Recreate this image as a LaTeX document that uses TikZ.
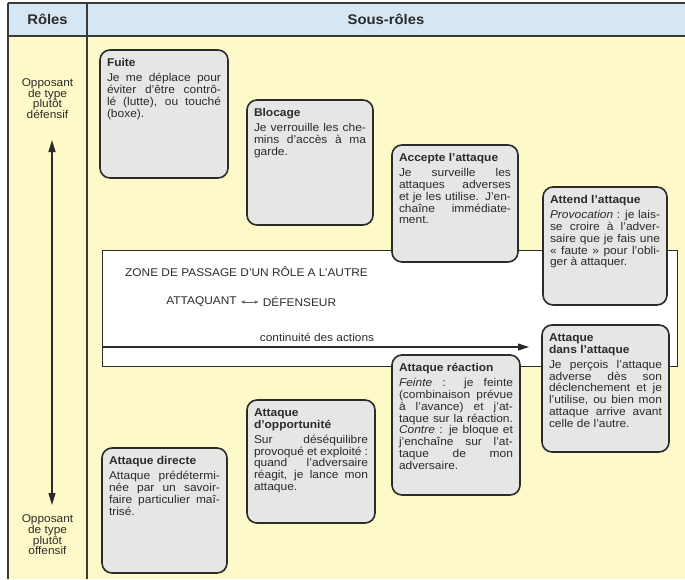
\documentclass[tikz,border=0pt]{standalone}
\usepackage{fontspec}
\setmainfont{Liberation Sans}[FakeStretch=1.06]
\usetikzlibrary{arrows.meta}

\definecolor{hdrblue}{HTML}{D5E7F4}
\definecolor{bodyyel}{HTML}{FEF9C8}
\definecolor{cardgray}{HTML}{E6E6E5}
\definecolor{ink}{HTML}{2B2B2B}
\definecolor{rule}{HTML}{3A3A3A}

% card contents: inner width, inner height, stacked lines
\newcommand\cardtext[3]{%
  \vbox to #2{\hsize=#1\relax\fontsize{11.3}{11.8}\selectfont\color{ink}#3\vfil}}
\newcommand\ttl[1]{\hbox{\rule{0pt}{8pt}\bfseries #1}}
\newcommand\gap{\vskip3.2pt}
\newcommand\jl[1]{\hbox to\hsize{#1}}
\newcommand\el[1]{\hbox{#1}}

\tikzset{
  card/.style={draw=ink, line width=1.6pt, rounded corners=10pt, fill=cardgray,
    anchor=north west, inner xsep=7pt, inner ysep=8.5pt, outer sep=0pt},
  frameline/.style={draw=rule, line width=1.3pt},
  hdrtext/.style={font=\fontsize{14}{15}\selectfont\bfseries, text=ink},
  sidetext/.style={font=\fontsize{11.2}{10.6}\selectfont, text=ink, align=center},
  zonetext/.style={font=\fontsize{11.2}{12}\selectfont, text=ink},
  bigtip/.style={-{Triangle[length=11pt,width=7pt]}},
}

\begin{document}
\begin{tikzpicture}[x=1pt,y=-1pt]
\useasboundingbox (0,0) rectangle (685,579);

% backgrounds
\fill[white] (0,0) rectangle (685,579);
\fill[hdrblue] (8,3) rectangle (685,36);
\fill[bodyyel] (8,36) rectangle (685,579);

% table rules
\draw[frameline] (8,3) -- (685,3);
\draw[frameline, line width=1.7pt] (8,36) -- (685,36);
\draw[frameline] (8,3) -- (8,579);
\draw[frameline] (87,3) -- (87,579);

% header
\node[hdrtext] (hroles) at (47.5,19.5) {Rôles};
\node[hdrtext] (hsous) at (386,19.5) {Sous-rôles};

% left column
\node[sidetext] (defl) at (47.5,98.5) {Opposant\\de type\\plutôt\\défensif};
\node[sidetext] (offl) at (47.5,535) {Opposant\\de type\\plutôt\\offensif};
\coordinate (axtop) at (52,140);
\coordinate (axbot) at (52,505);
\draw[draw=ink, line width=1.4pt, {Triangle[length=12pt,width=7pt]}-{Triangle[length=12pt,width=7pt]}] (axtop) -- (axbot);

% transition zone
\node[draw=ink, line width=1.4pt, fill=white, anchor=north west,
      minimum width=575pt, minimum height=116pt, inner sep=0pt] (zone) at (102,250) {};
\node[zonetext] (ztitle) at (246.5,272) {ZONE DE PASSAGE D'UN RÔLE A L'AUTRE};
\node[zonetext] (zatt) at (201.5,302) {ATTAQUANT};
\node[zonetext] (zdef) at (299.5,302) {DÉFENSEUR};
\draw[draw=ink!75, line width=0.7pt, {Triangle[length=3.5pt,width=3pt]}-{Triangle[length=3.5pt,width=3pt]}]
  ([xshift=1pt]zatt.east) -- ([xshift=-1pt]zdef.west);
\node[zonetext] (zcont) at (317,337) {continuité des actions};
\coordinate (flowstart) at (102,347);
\coordinate (flowend) at (529,347);
\draw[draw=ink, line width=1.2pt, bigtip] (flowstart) -- (flowend);

% sub-role cards
\node[card] (fuite) at (100,50) {\cardtext{114pt}{111pt}{%
  \ttl{Fuite}\gap
  \jl{Je me déplace pour}
  \jl{éviter d'être contrô-}
  \jl{lé (lutte), ou touché}
  \el{(boxe).}}};

\node[card] (blocage) at (247,100) {\cardtext{112pt}{108pt}{%
  \ttl{Blocage}\gap
  \jl{Je verrouille les che-}
  \jl{mins d'accès à ma}
  \el{garde.}}};

\node[card] (accepte) at (392,145) {\cardtext{112pt}{100pt}{%
  \ttl{Accepte l'attaque}\gap
  \jl{Je surveille les}
  \jl{attaques adverses}
  \jl{et je les utilise. J'en-}
  \jl{chaîne immédiate-}
  \el{ment.}}};

\node[card] (attend) at (543,187) {\cardtext{110pt}{101pt}{%
  \ttl{Attend l'attaque}\gap
  \jl{\textit{Provocation} : je lais-}
  \jl{se croire à l'adver-}
  \jl{saire que je fais une}
  \jl{«~faute~» pour l'obli-}
  \el{ger à attaquer.}}};

\node[card] (dans) at (542,325) {\cardtext{113pt}{110pt}{%
  \ttl{Attaque}
  \el{\bfseries dans l'attaque}\gap
  \jl{Je perçois l'attaque}
  \jl{adverse dès son}
  \jl{déclenchement et je}
  \jl{l'utilise, ou bien mon}
  \jl{attaque arrive avant}
  \el{celle de l'autre.}}};

\node[card] (reaction) at (392,355) {\cardtext{114pt}{123pt}{%
  \ttl{Attaque réaction}\gap
  \jl{\textit{Feinte} : je feinte}
  \jl{(combinaison prévue}
  \jl{à l'avance) et j'at-}
  \jl{taque sur la réaction.}
  \jl{\textit{Contre} : je bloque et}
  \jl{j'enchaîne sur l'at-}
  \jl{taque de mon}
  \el{adversaire.}}};

\node[card] (opport) at (247,400) {\cardtext{114pt}{106pt}{%
  \ttl{Attaque}
  \el{\bfseries d'opportunité}\gap
  \jl{Sur déséquilibre}
  \jl{provoqué et exploité :}
  \jl{quand l'adversaire}
  \jl{réagit, je lance mon}
  \el{attaque.}}};

\node[card] (directe) at (102,448) {\cardtext{111pt}{108pt}{%
  \ttl{Attaque directe}\gap
  \jl{Attaque prédétermi-}
  \jl{née par un savoir-}
  \jl{faire particulier maî-}
  \el{trisé.}}};

\end{tikzpicture}
\end{document}
